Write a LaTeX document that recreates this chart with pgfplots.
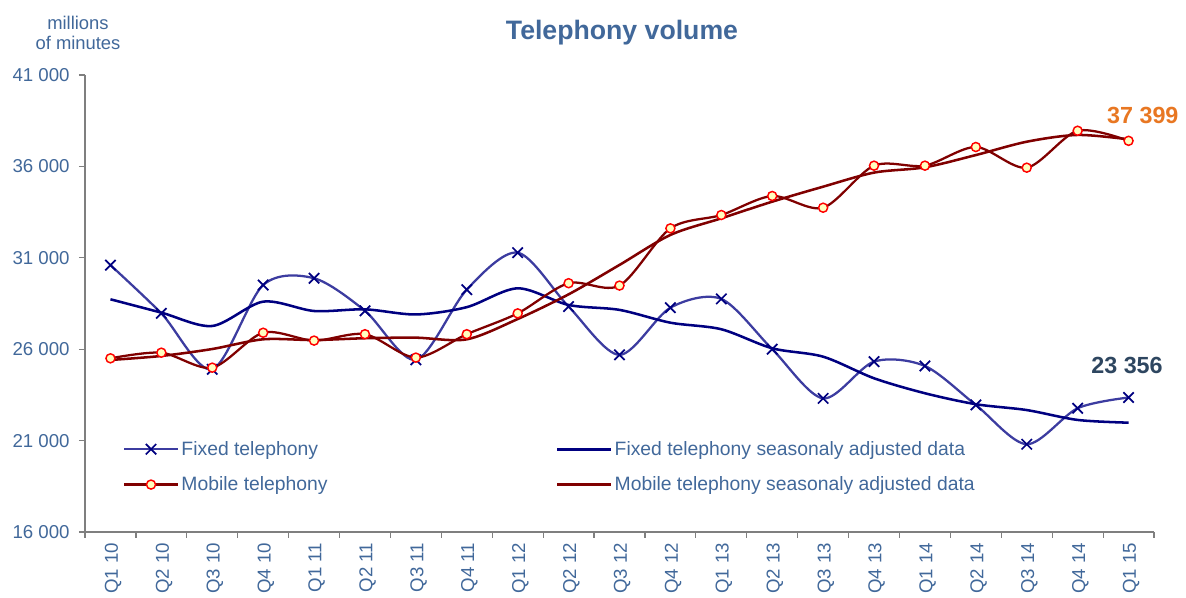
\documentclass[border=0pt]{standalone}
\usepackage{pgfplots}
\pgfplotsset{compat=1.18}
\usepackage{fontspec}
\setmainfont{Liberation Sans}
\definecolor{txtblue}{HTML}{41689A}
\definecolor{fixline}{HTML}{3C3CA0}
\definecolor{navy}{HTML}{000080}
\definecolor{maroon}{HTML}{800000}
\definecolor{mkfill}{HTML}{FFFFC0}
\definecolor{orangelab}{HTML}{E87722}
\definecolor{slatelab}{HTML}{2E4660}
\definecolor{axgray}{HTML}{7F7F7F}
\begin{document}
\begin{tikzpicture}
\path[use as bounding box] (0,0) rectangle (889.5pt,448.5pt);
\node[font=\fontsize{20}{24}\selectfont\bfseries, text=txtblue] at (466.5pt,423.75pt) {Telephony volume};
\node[font=\fontsize{13.8}{15}\selectfont, text=txtblue, align=center] at (58.5pt,424pt) {millions\\of minutes};
\begin{axis}[
  at={(63.75pt,49.5pt)}, anchor=south west,
  scale only axis, width=801.75pt, height=342.75pt,
  xmin=-0.5, xmax=20.5, ymin=16000, ymax=41000,
  clip=false,
  axis x line*=bottom, axis y line*=left,
  axis line style={axgray, line width=0.9pt, -},
  xtick={0,...,20},
  xticklabels={Q1 10,Q2 10,Q3 10,Q4 10,Q1 11,Q2 11,Q3 11,Q4 11,Q1 12,Q2 12,Q3 12,Q4 12,Q1 13,Q2 13,Q3 13,Q4 13,Q1 14,Q2 14,Q3 14,Q4 14,Q1 15},
  minor xtick={-0.5,0.5,...,20.5},
  tick align=outside,
  major x tick style={draw=none},
  minor x tick style={axgray, line width=0.9pt},
  minor tick length=4.5pt,
  ytick={16000,21000,26000,31000,36000,41000},
  ytick style={axgray, line width=0.9pt},
  major tick length=4.5pt,
  scaled y ticks=false,
  yticklabel={\pgfmathprintnumber[assume math mode=true, fixed, precision=0, 1000 sep={\ }]{\tick}},
  yticklabel style={font=\fontsize{14}{16}\selectfont, text=txtblue, anchor=east, xshift=-3.5pt},
  xticklabel style={font=\fontsize{14}{16}\selectfont, text=txtblue, rotate=90, anchor=east, yshift=-2pt},
  legend columns=2,
  legend cell align=left,
  legend style={at={(0.0355,0.205)}, anchor=north west, draw=none, fill=none, inner sep=0pt,
    font=\fontsize{14.5}{17}\selectfont, text=txtblue, row sep=10.5pt,
    nodes={inner sep=2pt}},
  legend image code/.code={\draw[mark repeat=2,mark phase=2,#1] plot coordinates {(0pt,0pt) (20pt,0pt) (40pt,0pt)};},
]
\addplot[fixline, line width=1.7pt, smooth, mark=x, mark size=5.5pt, mark options={navy, line width=1.3pt}] coordinates {
(0,30600) (1,27960) (2,24900) (3,29510) (4,29880) (5,28100) (6,25420) (7,29260) (8,31280) (9,28330) (10,25690)
(11,28270) (12,28750) (13,26000) (14,23310) (15,25320) (16,25080) (17,22950) (18,20800) (19,22770) (20,23356)};
\addlegendentry{\makebox[279pt][l]{Fixed telephony}}
\addplot[navy, line width=1.9pt, smooth] coordinates {
(0,28730) (1,28000) (2,27270) (3,28600) (4,28090) (5,28180) (6,27900) (7,28300) (8,29330) (9,28420) (10,28150)
(11,27450) (12,27090) (13,26050) (14,25590) (15,24410) (16,23590) (17,22990) (18,22670) (19,22130) (20,21980)};
\addlegendentry{Fixed telephony seasonaly adjusted data}
\addplot[maroon, line width=1.7pt, smooth, mark=*, mark size=3.4pt, mark options={draw=red, fill=mkfill, line width=1.1pt}] coordinates {
(0,25500) (1,25810) (2,24990) (3,26900) (4,26470) (5,26820) (6,25540) (7,26820) (8,27960) (9,29610) (10,29480)
(11,32610) (12,33340) (13,34380) (14,33740) (15,36040) (16,36040) (17,37060) (18,35930) (19,37950) (20,37399)};
\addlegendentry{\makebox[279pt][l]{Mobile telephony}}
\addplot[maroon, line width=1.9pt, smooth] coordinates {
(0,25410) (1,25630) (2,26010) (3,26540) (4,26500) (5,26600) (6,26630) (7,26540) (8,27650) (9,29000) (10,30610)
(11,32250) (12,33160) (13,34070) (14,34890) (15,35660) (16,35950) (17,36620) (18,37350) (19,37720) (20,37480)};
\addlegendentry{Mobile telephony seasonaly adjusted data}
\node[font=\fontsize{17.5}{20}\selectfont\bfseries, text=orangelab] at (axis cs:20.28,38812) {37 399};
\node[font=\fontsize{17.5}{20}\selectfont\bfseries, text=slatelab] at (axis cs:19.97,25082) {23 356};
\end{axis}
\end{tikzpicture}
\end{document}
